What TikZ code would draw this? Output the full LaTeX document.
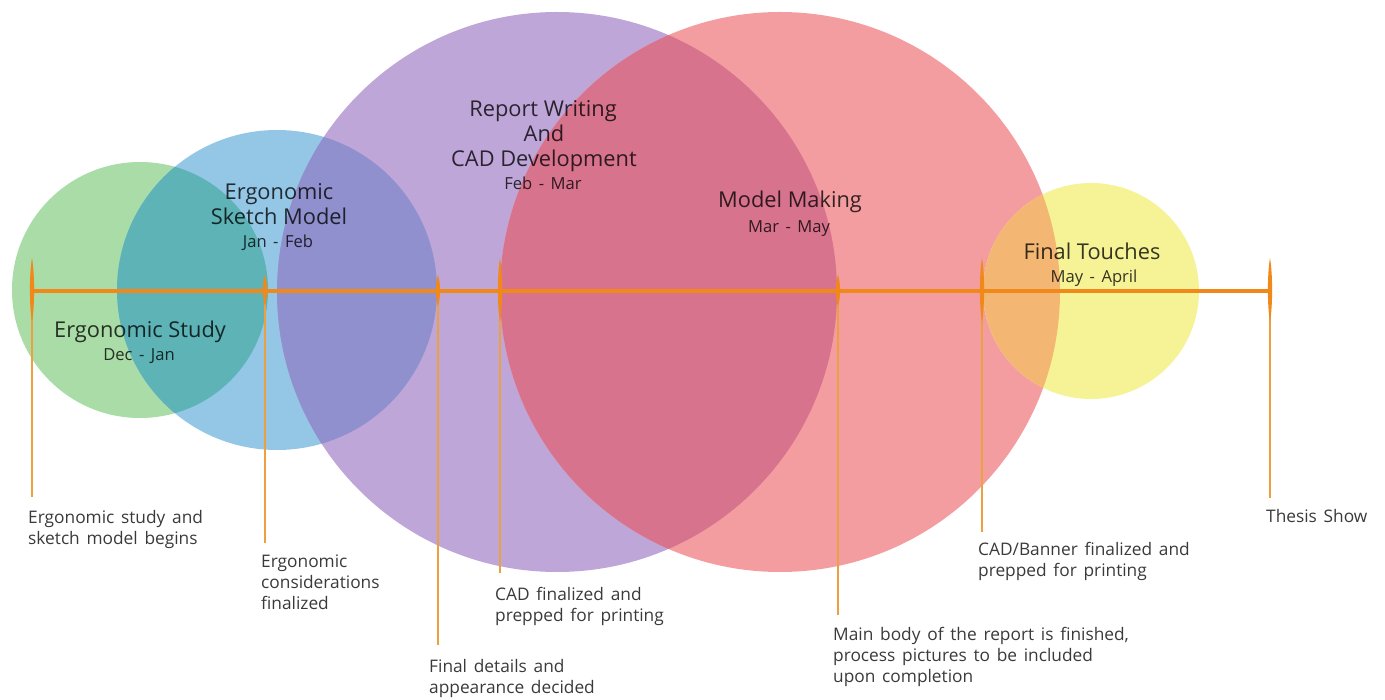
\documentclass[tikz,border=0pt]{standalone}
\usepackage{fontspec}
\setmainfont{Open Sans}
\newfontfamily\lblfont{Open Sans}[WordSpace=1.5]
\definecolor{cgreen}{HTML}{A9DCA6}
\definecolor{cblue}{HTML}{94C7E6}
\definecolor{cpurple}{HTML}{BFA6D8}
\definecolor{cred}{HTML}{F39DA0}
\definecolor{cyellow}{HTML}{F6F396}
\definecolor{ogb}{HTML}{5DB3B6}
\definecolor{obp}{HTML}{8F90CD}
\definecolor{opr}{HTML}{D8738D}
\definecolor{ory}{HTML}{F4B773}
\definecolor{tline}{HTML}{F0891A}
\definecolor{thin}{HTML}{EDA040}
\definecolor{lbltext}{HTML}{3A3A3A}
\tikzset{
  ttl/.style={inner sep=0pt, anchor=base, text=black, text opacity=0.78, font=\fontsize{21.8}{25}\selectfont},
  dt/.style={inner sep=0pt, anchor=base, text=black, text opacity=0.78, font=\lblfont\fontsize{16.6}{20}\selectfont},
  lbl/.style={inner sep=0pt, anchor=base west, text=lbltext, font=\lblfont\fontsize{17.3}{21}\selectfont},
  thinline/.style={draw=thin, line width=1.2pt},
  tickmark/.style={fill=tline},
}
\newcommand{\lensmark}[3]{% x, ytop, ybottom
  \fill[tickmark] (#1,#2) .. controls (#1+2.8,#2+0.25*#3-0.25*#2) and (#1+2.8,#3-0.25*#3+0.25*#2) .. (#1,#3)
    .. controls (#1-2.8,#3-0.25*#3+0.25*#2) and (#1-2.8,#2+0.25*#3-0.25*#2) .. (#1,#2) -- cycle;}
\begin{document}
\begin{tikzpicture}[x=1pt,y=-1pt]
\useasboundingbox (0,0) rectangle (1385,700);
% circle centres
\coordinate (cg) at (140,290);
\coordinate (cb) at (277,290);
\coordinate (cp) at (557,292);
\coordinate (cr) at (780,292);
\coordinate (cy) at (1091,291);
% circles
\fill[cgreen] (cg) circle[radius=128pt];
\fill[cblue] (cb) circle[radius=160pt];
\fill[cpurple] (cp) circle[radius=280pt];
\fill[cred] (cr) circle[radius=280pt];
\fill[cyellow] (cy) circle[radius=108pt];
% overlaps
\begin{scope}\clip (cg) circle[radius=128pt]; \fill[ogb] (cb) circle[radius=160pt];\end{scope}
\begin{scope}\clip (cb) circle[radius=160pt]; \fill[obp] (cp) circle[radius=280pt];\end{scope}
\begin{scope}\clip (cp) circle[radius=280pt]; \fill[opr] (cr) circle[radius=280pt];\end{scope}
\begin{scope}\clip (cr) circle[radius=280pt]; \fill[ory] (cy) circle[radius=108pt];\end{scope}
% timeline points
\coordinate (t1) at (32,291);
\coordinate (t2) at (265,291);
\coordinate (t3) at (438,291);
\coordinate (t4) at (500,291);
\coordinate (t5) at (838,291);
\coordinate (t6) at (982,291);
\coordinate (t7) at (1270,291);
\coordinate (e1) at (32,497);
\coordinate (e2) at (265,543);
\coordinate (e3) at (438,645);
\coordinate (e4) at (500,573);
\coordinate (e5) at (838,615);
\coordinate (e6) at (982,532);
\coordinate (e7) at (1270,498);
% thin leader lines
\foreach \i in {1,...,7} \draw[thinline] (t\i) -- (e\i);
% main timeline
\draw[tline, line width=4pt] (t1) -- (t7);
% tick marks
\lensmark{32}{258}{322}
\lensmark{265}{275}{306}
\lensmark{438}{275}{306}
\lensmark{500}{258}{322}
\lensmark{838}{275}{306}
\lensmark{982}{258}{322}
\lensmark{1270}{258}{322}
% circle titles
\node[ttl] (s1a) at (140,338) {Ergonomic Study};
\node[dt]  (s1b) at (139,361) {Dec - Jan};
\node[ttl] (s2a) at (279,200) {Ergonomic};
\node[ttl] (s2b) at (279,225) {Sketch Model};
\node[dt]  (s2c) at (278,248) {Jan - Feb};
\node[ttl] (s3a) at (543,117) {Report Writing};
\node[ttl] (s3b) at (544,142) {And};
\node[ttl] (s3c) at (544,167) {CAD Development};
\node[dt]  (s3d) at (543,190) {Feb - Mar};
\node[ttl] (s4a) at (790,208) {Model Making};
\node[dt]  (s4b) at (789,233) {Mar - May};
\node[ttl] (s5a) at (1092,260) {Final Touches};
\node[dt]  (s5b) at (1094,283) {May - April};
% milestone labels
\node[lbl] (l1a) at (28,523) {Ergonomic study and};
\node[lbl] (l1b) at (28,544) {sketch model begins};
\node[lbl] (l2a) at (261,567) {Ergonomic};
\node[lbl] (l2b) at (261,588) {considerations};
\node[lbl] (l2c) at (261,609) {finalized};
\node[lbl] (l3a) at (429,672) {Final details and};
\node[lbl] (l3b) at (429,693) {appearance decided};
\node[lbl] (l4a) at (495,600) {CAD finalized and};
\node[lbl] (l4b) at (495,621) {prepped for printing};
\node[lbl] (l5a) at (833,640) {Main body of the report is finished,};
\node[lbl] (l5b) at (833,661) {process pictures to be included};
\node[lbl] (l5c) at (833,682) {upon completion};
\node[lbl] (l6a) at (978,555) {CAD/Banner finalized and};
\node[lbl] (l6b) at (978,576) {prepped for printing};
\node[lbl] (l7a) at (1266,522) {Thesis Show};
\end{tikzpicture}
\end{document}
